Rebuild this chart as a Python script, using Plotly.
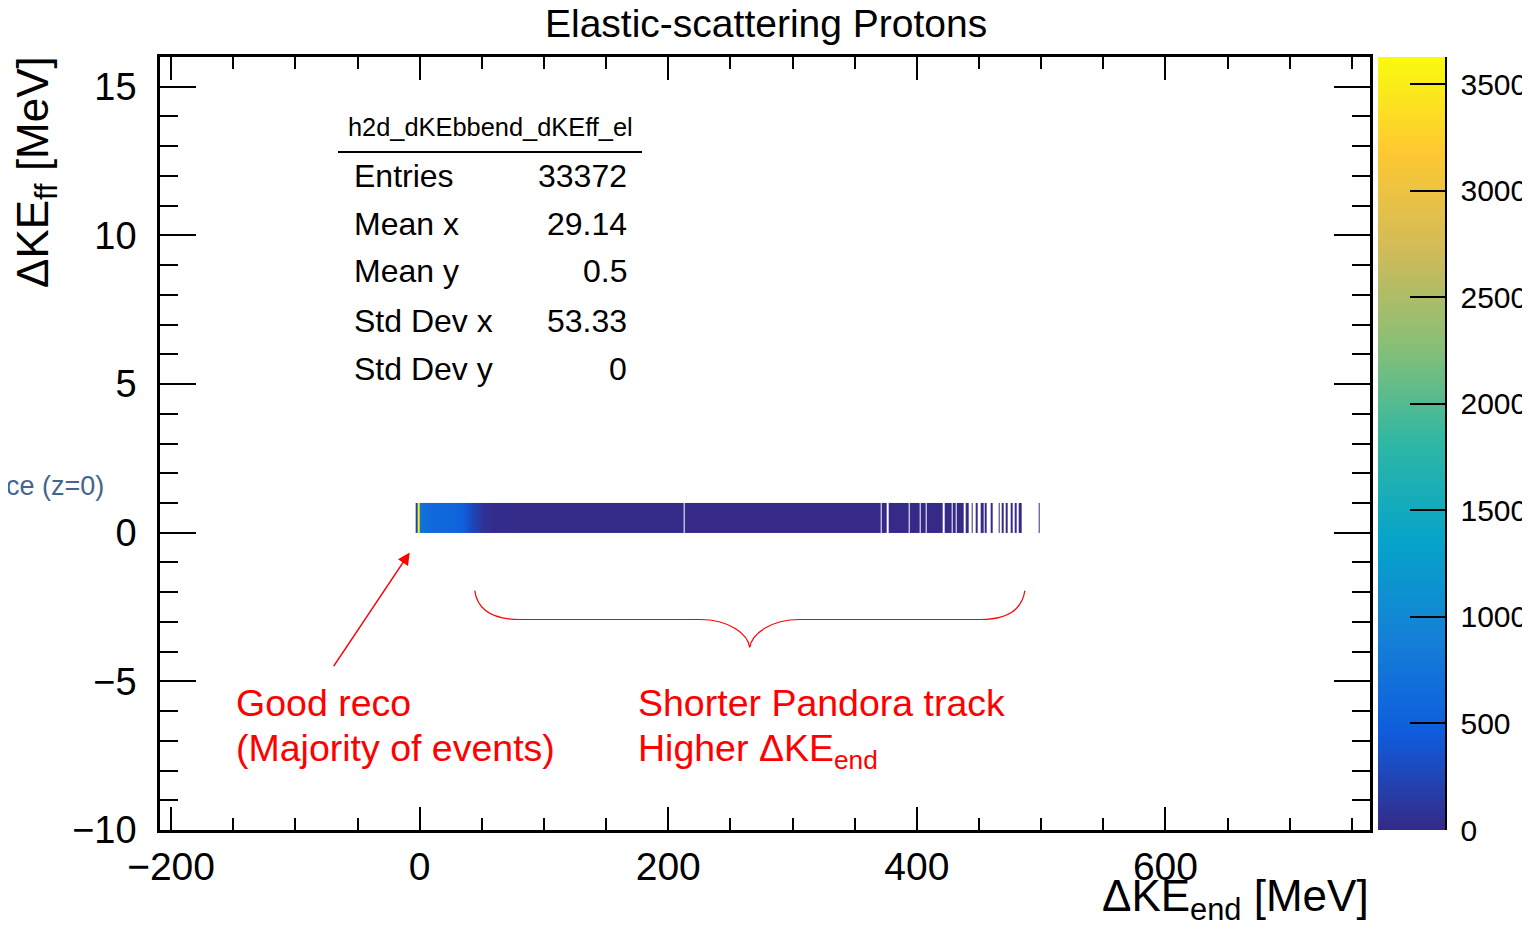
import plotly.graph_objects as go

# ---------------- data ----------------
# bin edges along dKE_end [MeV] (non-uniform segments of the 2D histogram, y bin 0..1)
x_edges = [-3.2, -1.4, 0, 2, 4, 6, 8, 10, 14, 18, 22, 26, 30, 33, 36, 39, 42, 45, 48, 51,
           54, 58, 65, 80, 120, 212.8, 213.4, 371, 371.8, 376, 377.0, 393.5, 394.5, 402,
           403.0, 407, 407.8, 421, 422.0, 428, 429.0, 431, 431.9, 437.3, 439.2, 442.1,
           444.0, 445.3, 447.0, 448.6, 451.5, 453.4, 454.2, 456.1, 459.3, 460.9, 465.5,
           466.8, 468.4, 470.0, 471.6, 473.0, 475.1, 477.0, 478.9, 480.2, 482.1, 484.2,
           497.7, 498.5]
y_edges = [0, 1]
counts = [220, 3627, 750, 700, 660, 640, 620, 600, 590, 580, 570, 560, 540, 500, 420, 330,
          240, 170, 110, 70, 45, 30, 20, 12, 6, None, 3, None, 2, None, 2, None, 2, None,
          1, None, 1, None, 1, None, 1, None, 1, None, 1, None, 1, None, 1, None, 1, None,
          1, None, 1, None, 1, None, 1, None, 1, None, 1, None, 1, None, 1, None, 1]

x_ticks = [-200, 0, 200, 400, 600]
y_ticks = [-10, -5, 0, 5, 10, 15]
z_ticks = [0, 500, 1000, 1500, 2000, 2500, 3000, 3500]

stats_title = "h2d_dKEbbend_dKEff_el"
stats_labels = ["Entries", "Mean x", "Mean y", "Std Dev x", "Std Dev y"]
stats_values = ["33372", "29.14", "0.5", "53.33", "0"]

# ROOT kBird palette
bird = [[0.000, "#352a87"], [0.125, "#0f5cdd"], [0.250, "#1481d6"], [0.375, "#06a4ca"],
        [0.500, "#2eb7a4"], [0.625, "#87bf77"], [0.750, "#d1bb59"], [0.875, "#fec832"],
        [1.000, "#f9fb0e"]]

# ---------------- geometry helpers (layout only) ----------------
OFF = 8                      # page body margin
W, H = 1514, 917             # figure size (page area 8..1522 x 8..925)
PL, PR, PT, PB = 160, 1370, 57, 830   # plot frame in page pixels
L, T = PL - OFF, PT - OFF
R = W - (PR - OFF)
B = H - (PB - OFF)
PW, PH = W - L - R, H - T - B


def px(xp):
    return (xp - OFF - L) / PW


def py(yp):
    return (H - B - (yp - OFF)) / PH


FONT = "Liberation Sans, Arial, Helvetica, sans-serif"
zmax = max(c for c in counts if c is not None)

fig = go.Figure()
# the histogram itself; its colour bar carries the inward ROOT-style ticks
fig.add_trace(go.Heatmap(
    x=x_edges, y=y_edges, z=[counts],
    colorscale=bird, zmin=0, zmax=zmax, hoverongaps=False,
    colorbar=dict(
        x=px(1378), xanchor="left", xref="paper", y=0.5, yanchor="middle", len=1,
        lenmode="fraction", thickness=68, thicknessmode="pixels", outlinewidth=0,
        tickvals=z_ticks, ticks="inside", ticklen=36, tickwidth=2, tickcolor="black",
        showticklabels=False, xpad=0, ypad=0,
    ),
))
# z-axis line + labels of the colour scale (thin black scale at the bar's right edge)
fig.add_trace(go.Scatter(
    x=[None], y=[None], mode="markers", showlegend=False, hoverinfo="skip",
    marker=dict(color=[0], cmin=0, cmax=zmax, colorscale=[[0, "black"], [1, "black"]],
                showscale=True,
                colorbar=dict(
                    x=px(1445), xanchor="left", xref="paper", y=0.5, yanchor="middle", len=1,
                    lenmode="fraction", thickness=2, thicknessmode="pixels", outlinewidth=0,
                    tickvals=z_ticks, ticks="outside", ticklen=8, tickwidth=1,
                    tickcolor="rgba(0,0,0,0)",
                    tickfont=dict(family=FONT, size=30, color="black"), xpad=0, ypad=0,
                )),
))

axis_common = dict(
    showline=True, linewidth=2.5, linecolor="black", mirror="allticks",
    ticks="inside", tickwidth=2, tickcolor="black", showgrid=False, zeroline=False,
)
fig.update_xaxes(range=[-208.9, 764.6], tickvals=x_ticks, ticklen=23,
                 minor=dict(ticks="inside", ticklen=12, dtick=50, tick0=0, tickwidth=1.5,
                            tickcolor="black", showgrid=False),
                 tickfont=dict(family=FONT, size=39, color="black"),
                 ticklabelstandoff=0, **axis_common)
fig.update_yaxes(range=[-10, 16], tickvals=y_ticks, ticklen=36,
                 minor=dict(ticks="inside", ticklen=18, dtick=1, tick0=0, tickwidth=1.5,
                            tickcolor="black", showgrid=False),
                 tickfont=dict(family=FONT, size=38, color="black"),
                 ticklabelstandoff=13, **axis_common)

ann = []
# title
ann.append(dict(x=px(766), y=py(23), xref="paper", yref="paper", text="Elastic-scattering Protons",
                showarrow=False, font=dict(family=FONT, size=39, color="black"),
                xanchor="center", yanchor="middle"))
# axis titles
ann.append(dict(x=px(1371), y=py(899), xref="paper", yref="paper",
                text="ΔKE<sub>end</sub> [MeV]", showarrow=False,
                font=dict(family=FONT, size=44, color="black"), xanchor="right", yanchor="middle"))
ann.append(dict(x=px(36), y=py(172), xref="paper", yref="paper",
                text="ΔKE<sub>ff</sub> [MeV]", showarrow=False, textangle=-90,
                font=dict(family=FONT, size=44, color="black"), xanchor="center", yanchor="middle"))
# stats box
ann.append(dict(x=px(490), y=py(127), xref="paper", yref="paper", text=stats_title,
                showarrow=False, font=dict(family=FONT, size=25.4, color="black"),
                xanchor="center", yanchor="middle"))
row_y = [176, 224, 271, 321, 369]
for lab, val, yy in zip(stats_labels, stats_values, row_y):
    ann.append(dict(x=px(352), y=py(yy), xref="paper", yref="paper", text=lab, showarrow=False,
                    font=dict(family=FONT, size=32, color="black"), xanchor="left", yanchor="middle"))
    ann.append(dict(x=px(629), y=py(yy), xref="paper", yref="paper", text=val, showarrow=False,
                    font=dict(family=FONT, size=32, color="black"), xanchor="right", yanchor="middle"))
# clipped legend text at left
ann.append(dict(x=px(106), y=py(486), xref="paper", yref="paper", text="ce (z=0)", showarrow=False,
                font=dict(family=FONT, size=27, color="#46658c"), xanchor="right", yanchor="middle"))
# red annotations
red = "#ff0000"
red_lines = [(234, 703, "Good reco"), (234, 748, "(Majority of events)"),
             (636, 703, "Shorter Pandora track"), (636, 751, "Higher ΔKE<sub>end</sub>")]
for xx, yy, txt in red_lines:
    ann.append(dict(x=px(xx), y=py(yy), xref="paper", yref="paper", text=txt, showarrow=False,
                    font=dict(family=FONT, size=37.5, color=red), xanchor="left", yanchor="middle"))
# arrow pointing to the good-reco peak
ann.append(dict(x=-8.0, y=-0.67, xref="x", yref="y", ax=-77, ay=115, axref="pixel", ayref="pixel",
                text="", showarrow=True, arrowhead=2, arrowsize=1.6, arrowwidth=1.5,
                arrowcolor=red))
fig.update_layout(annotations=ann)

shapes = []
# stats title underline
shapes.append(dict(type="line", xref="paper", yref="paper", x0=px(338), x1=px(642),
                   y0=py(152), y1=py(152), line=dict(color="black", width=2)))
# curly brace under the tail (data coords)
brace = ("M 44.3,-1.95 C 46.7,-2.65 60.4,-2.92 80.5,-2.92 L 225.4,-2.92 "
         "C 249.5,-2.92 264.0,-3.42 265.6,-3.86 C 267.2,-3.42 281.7,-2.92 305.8,-2.92 "
         "L 450.7,-2.92 C 470.8,-2.92 484.5,-2.65 486.9,-1.95")
shapes.append(dict(type="path", xref="x", yref="y", path=brace, line=dict(color=red, width=1.2)))
fig.update_layout(shapes=shapes)

fig.update_layout(
    width=W, height=H, margin=dict(l=L, r=R, t=T, b=B, autoexpand=False),
    paper_bgcolor="white", plot_bgcolor="white", showlegend=False,
    font=dict(family=FONT, color="black"),
)

fig.write_html("out.html")
